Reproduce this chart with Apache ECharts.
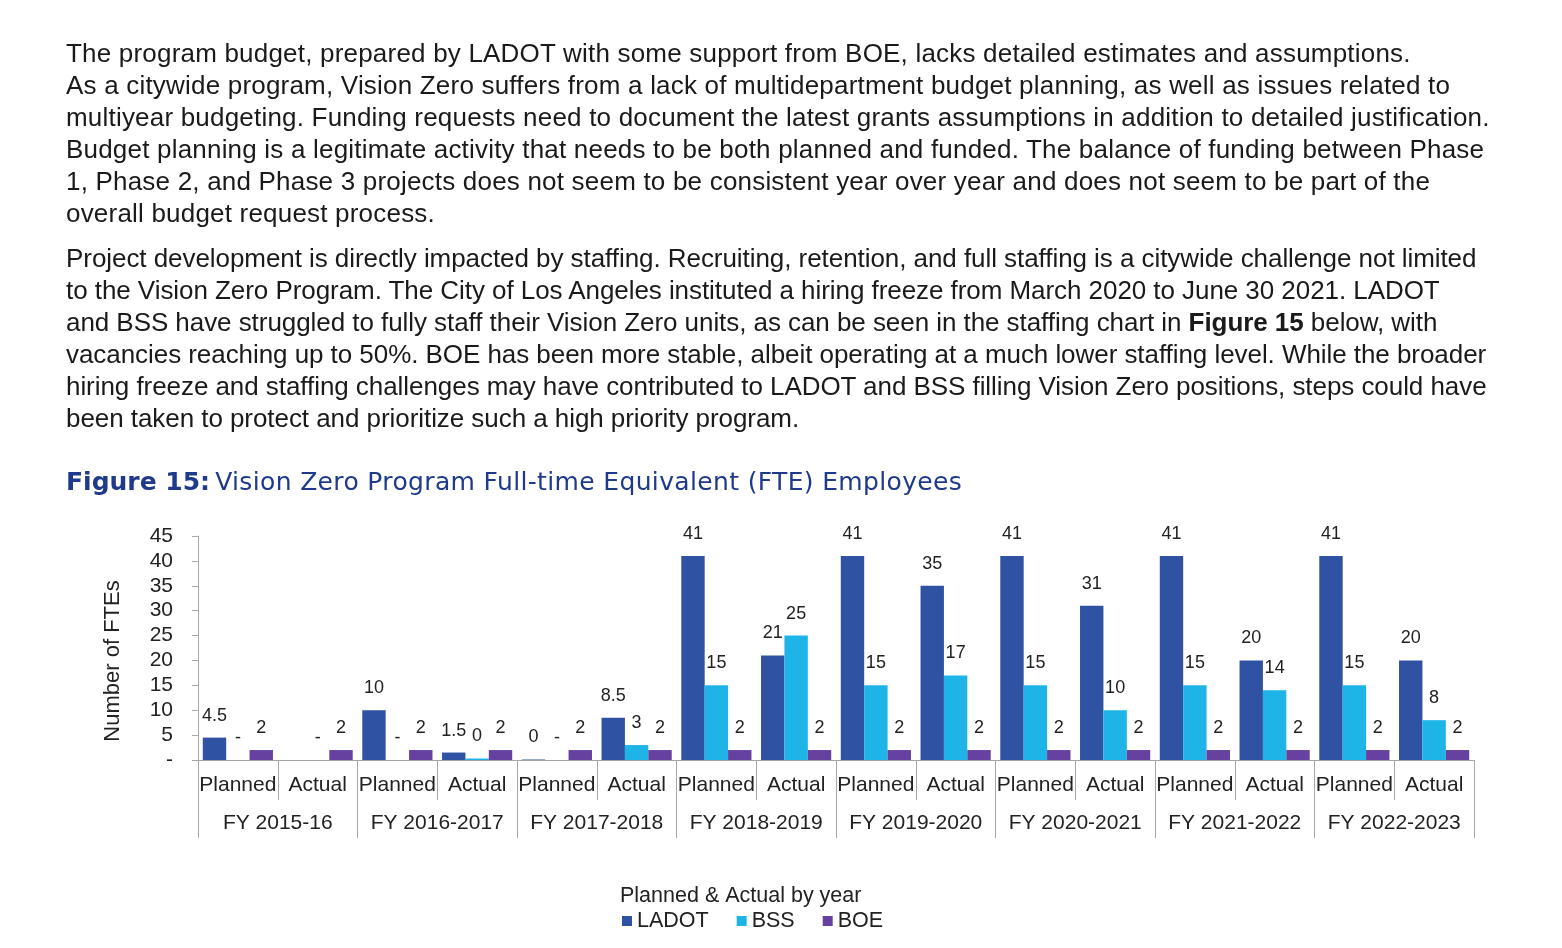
<!DOCTYPE html>
<html>
<head>
<meta charset="utf-8">
<script src="https://cdn.jsdelivr.net/npm/echarts@6/dist/echarts.min.js"></script>
<style>
  html,body{margin:0;padding:0;background:#fff;width:1562px;height:948px;overflow:hidden;}
  #chart{position:absolute;left:0;top:0;width:1562px;height:948px;}
  .para{position:absolute;left:66px;font-family:"Liberation Sans",Arial,sans-serif;font-size:26px;letter-spacing:0.2px;line-height:32px;color:#1a1a1a;white-space:pre;z-index:2;}
  #p2{letter-spacing:-0.06px;}
  #fig{position:absolute;left:66px;top:466px;line-height:32px;font-family:"DejaVu Sans",Verdana,sans-serif;font-size:25px;color:#1f3a8a;white-space:pre;z-index:2;}
  #fig .reg{margin-left:5px;letter-spacing:0.35px;}
</style>
</head>
<body>
<div id="chart"></div>
<div class="para" id="p1" style="top:37px;">The program budget, prepared by LADOT with some support from BOE, lacks detailed estimates and assumptions.
As a citywide program, Vision Zero suffers from a lack of multidepartment budget planning, as well as issues related to
multiyear budgeting. Funding requests need to document the latest grants assumptions in addition to detailed justification.
Budget planning is a legitimate activity that needs to be both planned and funded. The balance of funding between Phase
1, Phase 2, and Phase 3 projects does not seem to be consistent year over year and does not seem to be part of the
overall budget request process.</div>
<div class="para" id="p2" style="top:242px;">Project development is directly impacted by staffing. Recruiting, retention, and full staffing is a citywide challenge not limited
to the Vision Zero Program. The City of Los Angeles instituted a hiring freeze from March 2020 to June 30 2021. LADOT
and BSS have struggled to fully staff their Vision Zero units, as can be seen in the staffing chart in <b>Figure 15</b> below, with
vacancies reaching up to 50%. BOE has been more stable, albeit operating at a much lower staffing level. While the broader
hiring freeze and staffing challenges may have contributed to LADOT and BSS filling Vision Zero positions, steps could have
been taken to protect and prioritize such a high priority program.</div>
<div id="fig"><b>Figure 15:</b><span class="reg">Vision Zero Program Full-time Equivalent (FTE) Employees</span></div>
<script>
// ---- data ----
const subCategories = ['Planned','Actual','Planned','Actual','Planned','Actual','Planned','Actual',
                       'Planned','Actual','Planned','Actual','Planned','Actual','Planned','Actual'];
const fiscalYears = ['FY 2015-16','FY 2016-2017','FY 2017-2018','FY 2018-2019',
                     'FY 2019-2020','FY 2020-2021','FY 2021-2022','FY 2022-2023'];
// null = no label; 0 = shown as "-"; small (<0.5) shown as "0"
const ladot = [4.5, null, 10, 1.5, 0.1, 8.5, 41, 21, 41, 35, 41, 31, 41, 20, 41, 20];
const bss   = [0, 0, 0, 0.3, 0, 3, 15, 25, 15, 17, 15, 10, 15, 14, 15, 8];
const boe   = [2, 2, 2, 2, 2, 2, 2, 2, 2, 2, 2, 2, 2, 2, 2, 2];
const yTicks = [0, 5, 10, 15, 20, 25, 30, 35, 40, 45];

const colors = {LADOT:'#3052a3', BSS:'#1fb4e8', BOE:'#6641a0'};
const fontFam = '"Liberation Sans", Arial, sans-serif';

function lbl(p){
  const v = p.value;
  if (v === null || v === undefined) return '';
  if (v === 0) return '-';
  if (v < 0.5) return '0';
  return String(v);
}
function mkSeries(name, data){
  return {
    name, type:'bar', data, xAxisIndex:0,
    barGap:'0%', barCategoryGap:'12%',
    itemStyle:{color:colors[name]},
    label:{show:true, position:'top', distance:13, formatter:lbl,
           fontFamily:fontFam, fontSize:18, color:'#222'},
    emphasis:{disabled:true}
  };
}

const chart = echarts.init(document.getElementById('chart'), null, {renderer:'canvas'});
chart.setOption({
  animation:false,
  textStyle:{fontFamily:fontFam},
  title:{text:'Planned & Actual by year', left:615, top:880,
         textStyle:{fontFamily:fontFam, fontSize:21.5, fontWeight:'normal', color:'#222'}},
  legend:{left:622, top:910, padding:0, icon:'rect', itemWidth:10, itemHeight:10, itemGap:28,
          textStyle:{fontFamily:fontFam, fontSize:21.5, color:'#222'},
          data:['LADOT','BSS','BOE']},
  grid:{left:198, right:88, top:536, bottom:188, containLabel:false},
  xAxis:[
    {type:'category', data:subCategories, position:'bottom',
     axisLine:{lineStyle:{color:'#a6a6a6'}},
     axisTick:{show:true, length:40, alignWithLabel:false, lineStyle:{color:'#a6a6a6'}},
     axisLabel:{fontFamily:fontFam, fontSize:21, color:'#222', margin:15, interval:0}},
    {type:'category', data:fiscalYears, position:'bottom',
     axisLine:{show:false},
     axisTick:{show:true, length:78, alignWithLabel:false, lineStyle:{color:'#a6a6a6'}},
     axisLabel:{fontFamily:fontFam, fontSize:21, color:'#222', margin:53, interval:0}}
  ],
  yAxis:{type:'value', min:yTicks[0], max:yTicks[yTicks.length-1], interval:5,
     axisLine:{show:true, lineStyle:{color:'#a6a6a6'}},
     axisTick:{show:true, length:6, lineStyle:{color:'#a6a6a6'}},
     splitLine:{show:false},
     axisLabel:{fontFamily:fontFam, fontSize:21, color:'#222', margin:25,
                formatter:v => v === 0 ? '-' : String(v)}},
  graphic:[{type:'text', x:113, y:661, rotation:Math.PI/2,
            style:{text:'Number of FTEs', fontFamily:fontFam, fontSize:22, fill:'#222',
                   align:'center', verticalAlign:'middle', textAlign:'center', textVerticalAlign:'middle'}}],
  series:[mkSeries('LADOT', ladot), mkSeries('BSS', bss), mkSeries('BOE', boe)]
});
</script>
</body>
</html>
